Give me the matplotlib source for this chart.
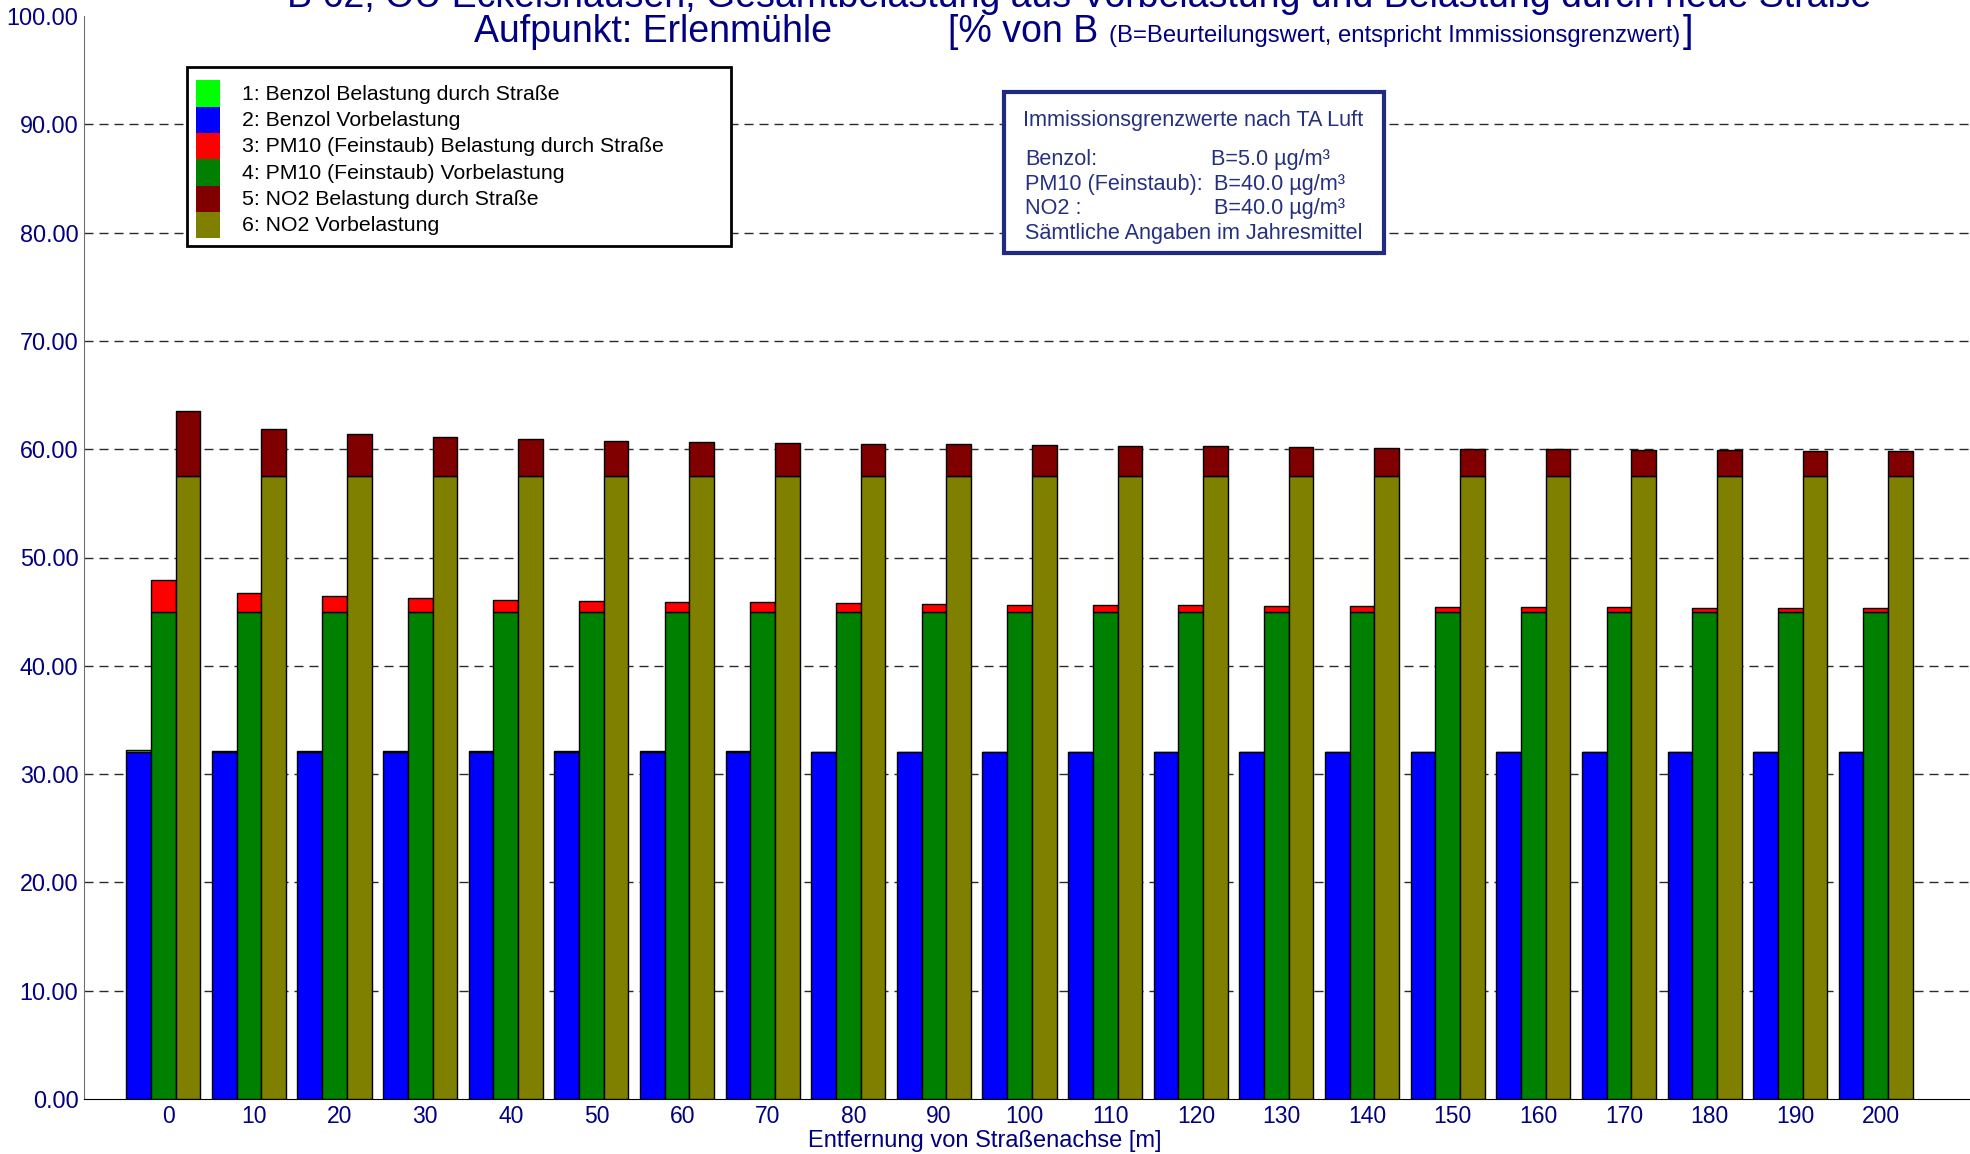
import matplotlib.pyplot as plt
import numpy as np
from matplotlib.patches import Rectangle

plt.rcParams['font.family'] = ['Liberation Sans', 'DejaVu Sans']

W, H = 1970, 1154
NAVY = '#000080'

# Data (% von B)
distances = [0, 10, 20, 30, 40, 50, 60, 70, 80, 90, 100,
             110, 120, 130, 140, 150, 160, 170, 180, 190, 200]
benzol_vor = [32.0] * 21
benzol_str = [0.22, 0.16, 0.12, 0.11, 0.10, 0.10, 0.09, 0.09, 0.08, 0.08, 0.08,
              0.07, 0.07, 0.07, 0.07, 0.06, 0.06, 0.06, 0.06, 0.06, 0.05]
pm10_vor = [45.0] * 21
pm10_str = [2.9, 1.76, 1.42, 1.26, 1.1, 0.98, 0.9, 0.85, 0.78, 0.72, 0.66,
            0.62, 0.57, 0.53, 0.5, 0.47, 0.44, 0.41, 0.38, 0.36, 0.33]
no2_vor = [57.5] * 21
no2_str = [6.05, 4.35, 3.9, 3.6, 3.4, 3.3, 3.2, 3.1, 3.0, 2.95, 2.9,
           2.8, 2.75, 2.7, 2.6, 2.55, 2.5, 2.45, 2.4, 2.35, 2.3]

legend_labels = ['1: Benzol Belastung durch Straße',
                 '2: Benzol Vorbelastung',
                 '3: PM10 (Feinstaub) Belastung durch Straße',
                 '4: PM10 (Feinstaub) Vorbelastung',
                 '5: NO2 Belastung durch Straße',
                 '6: NO2 Vorbelastung']
colors = ['#00ff00', '#0000ff', '#ff0000', '#008000', '#800000', '#808000']

fig = plt.figure(figsize=(W / 100, H / 100), dpi=100)
ax = fig.add_axes([84 / W, 1 - 1099 / H, 1 - 84 / W, (1099 - 16) / H])

x = np.arange(len(distances))
w = 0.2885
kw = dict(width=w, edgecolor='black', linewidth=1.0, zorder=3)
ax.bar(x - w, benzol_vor, color=colors[1], **kw)
ax.bar(x - w, benzol_str, bottom=benzol_vor, color=colors[0], **kw)
ax.bar(x, pm10_vor, color=colors[3], **kw)
ax.bar(x, pm10_str, bottom=pm10_vor, color=colors[2], **kw)
ax.bar(x + w, no2_vor, color=colors[5], **kw)
ax.bar(x + w, no2_str, bottom=no2_vor, color=colors[4], **kw)

ax.set_xlim(-0.926, 21.1)
ax.set_ylim(0, 100)
yt = np.arange(0, 101, 10)
ax.set_yticks(yt)
ax.set_yticklabels([f'{v:.2f}' for v in yt], fontsize=16.8, color=NAVY)
for v in yt[1:-1]:
    ax.axhline(v, color='#2a2a2a', linewidth=1.0, linestyle=(0, (6.5, 4.3)), zorder=1)

ax.set_xticks(x + 0.06)
ax.set_xticklabels([str(d) for d in distances], fontsize=16.5, color=NAVY)
ax.tick_params(axis='both', length=0, pad=4)
ax.set_xlabel('Entfernung von Straßenachse [m]', fontsize=17, color=NAVY)
ax.xaxis.set_label_coords((985 - 84) / (W - 84), -0.029)

for s in ['top', 'right']:
    ax.spines[s].set_visible(False)
ax.spines['left'].set_color('#707070')
ax.spines['bottom'].set_color('black')


def fx(px):
    return px / W


def fy(py):
    return 1 - py / H


# Title (first line is cut at the top edge, as in the original)
fig.text(fx(287), fy(7), 'B 62, OU Eckelshausen, Gesamtbelastung aus Vorbelastung und Belastung durch neue Straße',
         fontsize=27, color=NAVY, ha='left', va='baseline')
fig.text(fx(474), fy(42), 'Aufpunkt: Erlenmühle', fontsize=27, color=NAVY, ha='left', va='baseline')
fig.text(fx(948), fy(42), '[% von B', fontsize=27, color=NAVY, ha='left', va='baseline')
fig.text(fx(1109), fy(42), '(B=Beurteilungswert, entspricht Immissionsgrenzwert)',
         fontsize=17.2, color=NAVY, ha='left', va='baseline')
fig.text(fx(1683), fy(42), ']', fontsize=27, color=NAVY, ha='left', va='baseline')

# Legend box
fig.add_artist(Rectangle((fx(187), fy(246)), (731 - 187) / W, (246 - 67) / H,
                         transform=fig.transFigure, facecolor='white',
                         edgecolor='black', linewidth=2.0, zorder=5))
ph = 26.3
for i, (lab, c) in enumerate(zip(legend_labels, colors)):
    top = 80.5 + i * ph
    fig.add_artist(Rectangle((fx(196), fy(top + ph)), 23.5 / W, ph / H,
                             transform=fig.transFigure, facecolor=c,
                             edgecolor='none', zorder=6))
    fig.text(fx(242.5), fy(top + ph / 2 + 0.5), lab, fontsize=15.3, color='black',
             ha='left', va='center', zorder=7)

# Info box
BOXC = '#1f2a80'
TXTC = '#26307f'
fig.add_artist(Rectangle((fx(1004), fy(253)), (1384 - 1004) / W, (253 - 92) / H,
                         transform=fig.transFigure, facecolor='white',
                         edgecolor=BOXC, linewidth=3, zorder=5))
fig.text(fx(1023), fy(126), 'Immissionsgrenzwerte nach TA Luft', fontsize=15.6,
         color=TXTC, ha='left', va='baseline', zorder=7)
info_names = ['Benzol:', 'PM10 (Feinstaub):', 'NO2 :']
info_vals = ['B=5.0 µg/m³', 'B=40.0 µg/m³', 'B=40.0 µg/m³']
for i, (n, v) in enumerate(zip(info_names, info_vals)):
    base = 165 + i * 24.5
    fig.text(fx(1025), fy(base), n, fontsize=15.6, color=TXTC, ha='left', va='baseline', zorder=7)
    fig.text(fx(1211 + (3 if i else 0)), fy(base), v, fontsize=15.6, color=TXTC,
             ha='left', va='baseline', zorder=7)
fig.text(fx(1025), fy(239), 'Sämtliche Angaben im Jahresmittel', fontsize=15.6,
         color=TXTC, ha='left', va='baseline', zorder=7)

fig.savefig('out.png', dpi=100)
